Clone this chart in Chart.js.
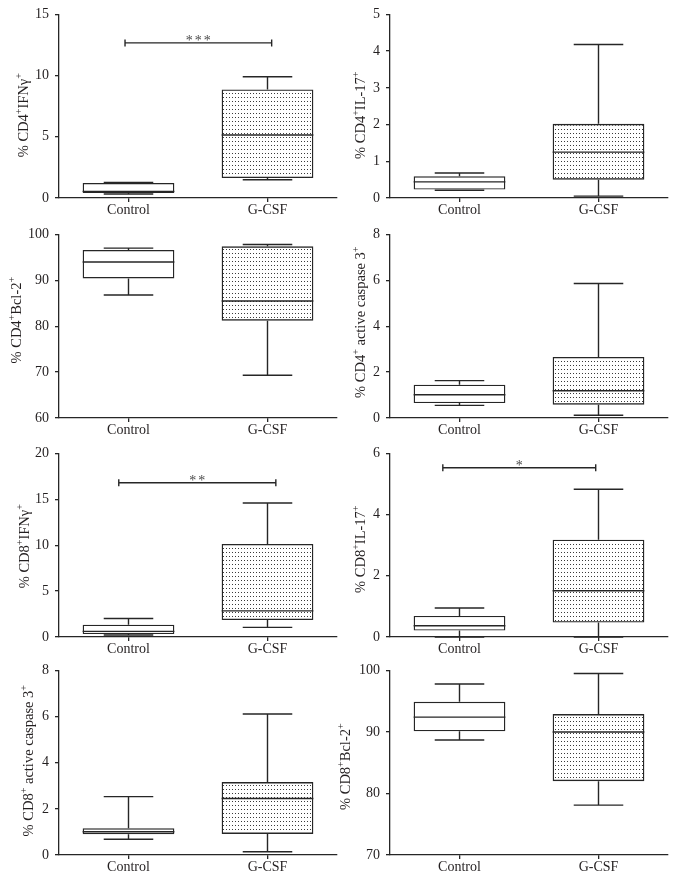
<!DOCTYPE html>
<html>
<head>
  <title>CD4 / CD8 box plots</title>
  <script src="https://cdn.jsdelivr.net/npm/chart.js"></script>
  <style>
    body { margin: 0; background: #fff; }
    #wrap { position: relative; width: 676px; height: 885px; }
    #wrap canvas { position: absolute; }
  </style>
</head>
<body>
<div id="wrap"></div>

<script>
  var groups = ['Control', 'G-CSF'];

  // one entry per panel, each entry is [Control, G-CSF]
  var whiskerLow  = [[0.33, 1.49], [0.21, 0.05], [86.8, 69.3], [0.55, 0.12], [0.22, 1.05], [0.0, 0.0], [0.68, 0.14], [88.7, 78.1]];
  var boxLow      = [[0.40, 1.63], [0.23, 0.50], [90.4, 81.2], [0.65, 0.58], [0.32, 1.84], [0.21, 0.47], [0.90, 0.91], [90.1, 82.0]];
  var median      = [[0.54, 5.15], [0.44, 1.25], [94.0, 85.5], [1.01, 1.19], [0.61, 2.85], [0.37, 1.51], [1.01, 2.45], [92.4, 90.0]];
  var boxHigh     = [[1.22, 8.87], [0.59, 2.02], [96.6, 97.4], [1.45, 2.66], [1.34, 10.14], [0.69, 3.18], [1.16, 3.16], [94.9, 92.9]];
  var whiskerHigh = [[1.27, 9.90], [0.68, 4.18], [97.0, 97.8], [1.63, 5.86], [2.02, 14.6], [0.95, 4.83], [2.53, 6.11], [97.8, 99.5]];

  // y axes ("+" is drawn as a superscript)
  var yTitles = ['% CD4+IFNγ+', '% CD4+IL-17+', '% CD4+Bcl-2+', '% CD4+ active caspase 3+',
                 '% CD8+IFNγ+', '% CD8+IL-17+', '% CD8+ active caspase 3+', '% CD8+Bcl-2+'];
  var yMin  = [0, 0, 60, 0, 0, 0, 0, 70];
  var yMax  = [15, 5, 100, 8, 20, 6, 8, 100];
  var yStep = [5, 1, 10, 2, 5, 2, 2, 10];

  // significance brackets
  var sigStars = ['***', '', '', '', '**', '*', '', ''];
  var sigLevel = [12.67, null, null, null, 16.8, 5.53, null, null];

  // layout of the 2 x 4 grid
  var rowTop  = [0, 220, 439, 656];
  var plotH   = [184, 184, 184, 185];
  var titleX  = [24, 23, 17, 23, 25, 23, 29, 8];
  var titleDY = [9, 9, -6, -4, 1, 4, -2, 4];
  var sigSpan = [[-0.025, 1.03], null, null, null, [-0.07, 1.06], [-0.12, 0.98], null, null];

  var SERIF = "'Liberation Serif', 'DejaVu Serif', serif";
  var INK = '#231f20';
  var LINE = '#262626';
  var CANVAS_H = 222;

  function dotPattern(ctx) {
    var c = document.createElement('canvas');
    c.width = 3; c.height = 4;
    var g = c.getContext('2d');
    g.fillStyle = '#3a3a3a';
    g.fillRect(1, 1, 1, 1);
    return ctx.createPattern(c, 'repeat');
  }

  var boxPlot = {
    id: 'boxPlot',
    afterDatasetsDraw: function(chart) {
      var p = chart.options.plugins.boxPlot.panel;
      var y = chart.scales.y, x = chart.scales.x, ctx = chart.ctx;
      ctx.save();
      ctx.strokeStyle = LINE;
      ctx.lineWidth = 1.4;
      chart.getDatasetMeta(0).data.forEach(function(bar, i) {
        var cx = bar.x, half = bar.width / 2, cap = bar.width * 0.27;
        var yHi = y.getPixelForValue(whiskerHigh[p][i]);
        var yLo = y.getPixelForValue(whiskerLow[p][i]);
        var yMed = y.getPixelForValue(median[p][i]);
        ctx.beginPath();
        ctx.moveTo(cx, y.getPixelForValue(boxHigh[p][i])); ctx.lineTo(cx, yHi);
        ctx.moveTo(cx - cap, yHi); ctx.lineTo(cx + cap, yHi);
        ctx.moveTo(cx, y.getPixelForValue(boxLow[p][i])); ctx.lineTo(cx, yLo);
        ctx.moveTo(cx - cap, yLo); ctx.lineTo(cx + cap, yLo);
        ctx.moveTo(cx - half, yMed); ctx.lineTo(cx + half, yMed);
        ctx.stroke();
      });

      if (sigStars[p]) {
        var ys = y.getPixelForValue(sigLevel[p]);
        var x1 = x.getPixelForValue(sigSpan[p][0]);
        var x2 = x.getPixelForValue(sigSpan[p][1]);
        ctx.beginPath();
        ctx.moveTo(x1, ys); ctx.lineTo(x2, ys);
        ctx.moveTo(x1, ys - 3.5); ctx.lineTo(x1, ys + 3.5);
        ctx.moveTo(x2, ys - 3.5); ctx.lineTo(x2, ys + 3.5);
        ctx.stroke();
        ctx.fillStyle = '#4a4a4a';
        ctx.font = '14px ' + SERIF;
        ctx.letterSpacing = '2px';
        ctx.textAlign = 'center';
        ctx.textBaseline = 'alphabetic';
        ctx.fillText(sigStars[p], (x1 + x2) / 2 + 1, ys + 2.5);
      }
      ctx.restore();
    },
    afterDraw: function(chart) {
      // y title with superscript plus signs
      var p = chart.options.plugins.boxPlot.panel;
      var area = chart.chartArea, ctx = chart.ctx;
      var big = '14.5px ' + SERIF, small = '10px ' + SERIF;
      var parts = [], total = 0;
      yTitles[p].split(/(\+)/).forEach(function(s) {
        if (!s) return;
        var sup = s === '+';
        ctx.font = sup ? small : big;
        var w = ctx.measureText(s).width;
        parts.push({ s: s, sup: sup, w: w });
        total += w;
      });
      ctx.save();
      ctx.translate(titleX[p], (area.top + area.bottom) / 2 + titleDY[p]);
      ctx.rotate(-Math.PI / 2);
      ctx.fillStyle = INK;
      ctx.textBaseline = 'middle';
      ctx.textAlign = 'left';
      var pos = -total / 2;
      parts.forEach(function(part) {
        ctx.font = part.sup ? small : big;
        ctx.fillText(part.s, pos, part.sup ? -5 : 0);
        pos += part.w;
      });
      ctx.restore();
    }
  };

  var wrap = document.getElementById('wrap');

  for (var p = 0; p < 8; p++) {
    (function(p) {
      var col = p % 2, row = Math.floor(p / 2);
      var canvas = document.createElement('canvas');
      canvas.width = 338;
      canvas.height = CANVAS_H;
      canvas.style.left = (col * 338) + 'px';
      canvas.style.top = rowTop[row] + 'px';
      wrap.appendChild(canvas);
      var ctx = canvas.getContext('2d');

      var tickFont = { family: SERIF, size: 14 };
      new Chart(ctx, {
        type: 'bar',
        data: {
          labels: groups,
          datasets: [{
            data: groups.map(function(g, i) { return [boxLow[p][i], boxHigh[p][i]]; }),
            backgroundColor: ['#fff', dotPattern(ctx)],
            borderColor: LINE,
            borderWidth: 1.4,
            borderSkipped: false,
            barPercentage: 0.66,
            categoryPercentage: 1
          }]
        },
        options: {
          responsive: false,
          animation: false,
          layout: { padding: { top: 14, right: col ? 8 : 1, left: 0, bottom: 0 } },
          plugins: {
            legend: { display: false },
            tooltip: { enabled: false },
            boxPlot: { panel: p }
          },
          scales: {
            x: {
              grid: { offset: false, drawOnChartArea: false, tickLength: 4, color: LINE, lineWidth: 1.3 },
              border: { color: LINE, width: 1.3 },
              ticks: { color: INK, font: tickFont, padding: 0 },
              afterFit: function(s) { s.height = CANVAS_H - 14 - plotH[row]; }
            },
            y: {
              min: yMin[p],
              max: yMax[p],
              ticks: { stepSize: yStep[p], color: INK, font: tickFont, padding: 6 },
              grid: { drawOnChartArea: false, tickLength: 4, color: LINE, lineWidth: 1.3 },
              border: { color: LINE, width: 1.3 },
              afterFit: function(s) { s.width = col ? 52 : 59; }
            }
          }
        },
        plugins: [boxPlot]
      });
    })(p);
  }
</script>
</body>
</html>
